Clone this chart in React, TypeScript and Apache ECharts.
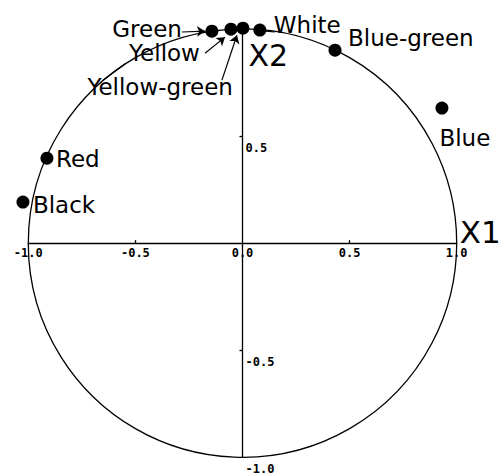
import React, { useEffect, useRef } from "react";
import * as echarts from "echarts";

// Variables plotted on the correlation circle
const names = ["Green", "Yellow", "Yellow-green", "White", "Blue-green", "Blue", "Red", "Black"];
const x1Values = [-0.143, -0.054, 0.002, 0.081, 0.432, 0.931, -0.913, -1.025];
const x2Values = [0.99, 0.999, 1.004, 0.995, 0.901, 0.631, 0.397, 0.192];

// Axis tick labels
const xTickValues = [-1, -0.5, 0, 0.5, 1];
const yTickValues = [0.5, -0.5, -1];
const xTickMarks = [-0.5, 0.5];
const yTickMarks = [0.5, -0.5];

// Unit circle: centre x, centre y, radius
const circleData = [[0, 0, 1]];

// Pointer lines from labels to dots: [x from, y from, x to, y to, arrow]
const pointerLines: [number, number, number, number, boolean][] = [
  [-0.283, 0.986, -0.175, 0.99, true],
  [-0.175, 0.887, -0.082, 0.962, true],
  [-0.096, 0.761, -0.026, 0.971, true],
  [0.151, 0.986, 0.109, 0.99, false],
  [-0.651, 0.761, -0.544, 0.84, false],
];

// Label placement (styling, relative to each dot)
const labelPlacement: Record<string, { align: string; offset: [number, number] }> = {
  Green: { align: "right", offset: [-30, -2] },
  Yellow: { align: "right", offset: [-31, 24] },
  "Yellow-green": { align: "right", offset: [-10, 59] },
  White: { align: "left", offset: [14, -5] },
  "Blue-green": { align: "left", offset: [13, -12] },
  Blue: { align: "left", offset: [-2.5, 29.5] },
  Red: { align: "left", offset: [9, 1] },
  Black: { align: "left", offset: [10, 3] },
};

const W = 502;
const H = 476;
const GRID = { left: 28.3, right: 45.3, top: 29, bottom: 18.7 };
const gridW = W - GRID.left - GRID.right;
const gridH = H - GRID.top - GRID.bottom;

const tickFont = {
  fontFamily: "DejaVu Sans Mono",
  fontWeight: "bold" as const,
  fontSize: 12,
  color: "#000",
};

export default function App() {
  const ref = useRef<HTMLDivElement>(null);

  useEffect(() => {
    if (!ref.current) return;
    const chart = echarts.init(ref.current, undefined, { renderer: "svg" });

    const scatterData = names.map((n, i) => ({
      name: n,
      value: [x1Values[i], x2Values[i]],
      label: {
        show: true,
        position: "inside",
        align: labelPlacement[n].align,
        verticalAlign: "middle",
        offset: labelPlacement[n].offset,
        formatter: n,
      },
    }));

    const markData = pointerLines.map((l) => [
      { coord: [l[0], l[1]], symbol: "none" },
      { coord: [l[2], l[3]], symbol: l[4] ? "arrow" : "none" },
    ]);

    chart.setOption({
      animation: false,
      grid: { ...GRID, containLabel: false, outerBoundsMode: "none" },
      xAxis: {
        type: "value",
        position: "bottom",
        offset: -gridH / 2,
        min: -1,
        max: 1,
        interval: 0.5,
        name: "X1",
        nameLocation: "end",
        nameGap: 3,
        nameMoveOverlap: false,
        nameTextStyle: {
          fontFamily: "DejaVu Sans",
          fontSize: 31,
          lineHeight: 22,
          color: "#000",
          align: "left",
          verticalAlign: "bottom",
        },
        axisLine: { onZero: false, lineStyle: { color: "#000", width: 1.3 } },
        axisTick: {
          show: true,
          inside: true,
          length: 3,
          customValues: xTickMarks,
          lineStyle: { color: "#000", width: 1.3 },
        },
        axisLabel: {
          show: true,
          customValues: xTickValues,
          margin: 4,
          verticalAlign: "top",
          formatter: (v: number) => v.toFixed(1),
          ...tickFont,
        },
        splitLine: { show: false },
      },
      yAxis: {
        type: "value",
        position: "left",
        offset: -gridW / 2,
        min: -1,
        max: 1,
        interval: 0.5,
        name: "X2",
        nameLocation: "end",
        nameGap: -26,
        nameMoveOverlap: false,
        nameTextStyle: {
          fontFamily: "DejaVu Sans",
          fontSize: 30,
          color: "#000",
          align: "left",
          verticalAlign: "middle",
          padding: [0, 0, 0, 6],
        },
        axisLine: { onZero: false, lineStyle: { color: "#000", width: 1.3 } },
        axisTick: {
          show: true,
          inside: false,
          length: 3,
          customValues: yTickMarks,
          lineStyle: { color: "#000", width: 1.3 },
        },
        axisLabel: {
          show: true,
          inside: true,
          customValues: yTickValues,
          margin: 3,
          align: "left",
          verticalAlign: "top",
          padding: [6, 0, 0, 0],
          formatter: (v: number) => v.toFixed(1),
          ...tickFont,
        },
        splitLine: { show: false },
      },
      series: [
        {
          type: "custom",
          coordinateSystem: "cartesian2d",
          clip: false,
          silent: true,
          z: 1,
          data: circleData,
          renderItem: (_p: any, api: any) => {
            const c = api.coord([api.value(0), api.value(1)]);
            const s = api.size([api.value(2), api.value(2)]);
            return {
              type: "circle",
              shape: { cx: c[0], cy: c[1], r: s[0] },
              style: { fill: "none", stroke: "#000", lineWidth: 1.3 },
            };
          },
        },
        {
          type: "scatter",
          clip: false,
          symbol: "circle",
          symbolSize: 13,
          z: 3,
          itemStyle: { color: "#000", opacity: 1 },
          label: {
            fontFamily: "DejaVu Sans",
            fontSize: 23,
            color: "#000",
          },
          emphasis: { disabled: true },
          data: scatterData,
          markLine: {
            silent: true,
            symbolSize: 8,
            label: { show: false },
            emphasis: { disabled: true },
            lineStyle: { color: "#000", width: 1.2, type: "solid", opacity: 1 },
            data: markData,
          },
        },
      ],
    });

    return () => chart.dispose();
  }, []);

  return (
    <div
      ref={ref}
      style={{ position: "absolute", left: 0, top: 0, width: W, height: H, background: "#fff" }}
    />
  );
}
